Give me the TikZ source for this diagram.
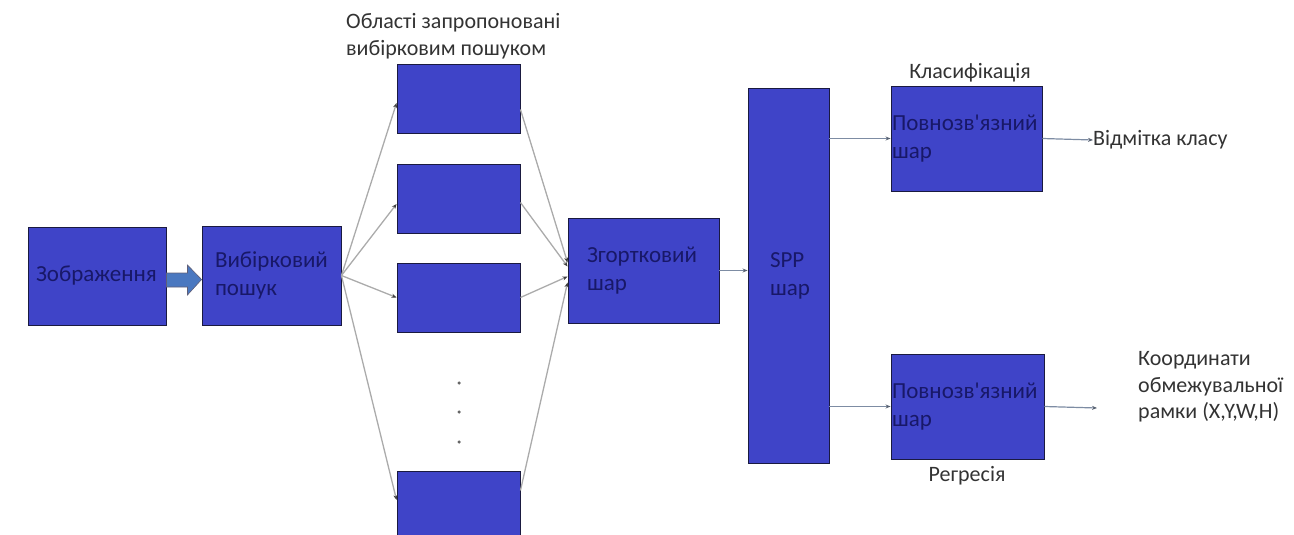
\documentclass[tikz,border=0pt]{standalone}
\usepackage{fontspec}
\setmainfont{Carlito}[Ligatures=TeXOff]
\usetikzlibrary{arrows.meta,calc}
\definecolor{boxblue}{HTML}{3F44C8}
\definecolor{boxtext}{HTML}{181868}
\definecolor{fanline}{HTML}{ABABAB}
\definecolor{outline}{HTML}{1A1A40}
\definecolor{blockarrow}{HTML}{4A78C0}
\definecolor{rline}{HTML}{7D8CA3}
\definecolor{captext}{HTML}{333333}
\tikzset{
  blk/.style={draw=outline, line width=0.9pt, fill=boxblue, text=boxtext,
    font=\fontsize{23}{28}\selectfont, align=left, inner ysep=0pt},
  captxt/.style={text=captext, font=\fontsize{22}{27.5}\selectfont, align=left, inner sep=0pt},
  fan/.style={draw=fanline, line width=1.3pt, -{Stealth[length=5pt,width=4pt,color=darkgray]}},
  rarr/.style={draw=rline, line width=1.2pt, -{Stealth[length=5pt,width=4pt,color=rline!70!black]}},
  dotm/.style={circle, fill=darkgray!80, inner sep=0pt, minimum size=3.5pt}
}
\begin{document}
\begin{tikzpicture}[x=1pt,y=-1pt]
\useasboundingbox (0,0) rectangle (1294,535);
% boxes
\node[blk, minimum height=98pt, text width=122pt, inner xsep=8pt] (img) at (97,276) {Зображення};
\node[blk, minimum height=99pt, text width=113pt, inner xsep=13pt] (sel) at (271.5,275.5) {Вибірковий\\пошук};
\node[blk, minimum width=123pt, minimum height=69pt] (p1) at (458.5,98.5) {};
\node[blk, minimum width=123pt, minimum height=69pt] (p2) at (458.5,198.5) {};
\node[blk, minimum width=123pt, minimum height=69pt] (p3) at (458.5,297.5) {};
\node[blk, minimum width=123pt, minimum height=69pt] (p4) at (458.5,505.5) {};
\node[blk, minimum height=105pt, text width=113pt, inner xsep=19pt] (conv) at (643.5,270.5) {Згортковий\\шар};
\node[blk, minimum height=375pt, text width=37pt, inner xsep=22pt] (spp) at (788.5,275.5) {SPP\\шар};
\node[blk, minimum height=105pt, text width=149pt, inner xsep=1pt] (fc1) at (966.5,138.5) {Повнозв'язний\\шар};
\node[blk, minimum height=105pt, text width=151pt, inner xsep=1pt] (fc2) at (967.5,406.5) {Повнозв'язний\\шар};
% dots
\node[dotm] (d1) at (459,383) {};
\node[dotm] (d2) at (459,412) {};
\node[dotm] (d3) at (459,442) {};
% captions
\node[captxt, anchor=west] (areas) at (346,36) {Області запропоновані\\вибірковим пошуком};
\node[captxt] (clsf) at (970,73) {Класифікація};
\node[captxt] (regr) at (967,476) {Регресія};
\node[captxt, anchor=west] (cls) at (1093,140) {Відмітка класу};
\node[captxt, anchor=west, font=\fontsize{22}{26.5}\selectfont] (coord) at (1138,387) {Координати\\обмежувальної\\рамки (X,Y,W,H)};
\coordinate (regend) at (1097,408);
% block arrow
\filldraw[fill=blockarrow, draw=outline!70, line width=0.6pt]
  ($(img.east)+(0,-3)$) -- ($(img.east)+(21,-3)$) -- ($(img.east)+(21,-11)$)
  -- ($(sel.west)+(0,4)$) -- ($(img.east)+(21,19)$) -- ($(img.east)+(21,11)$)
  -- ($(img.east)+(0,11)$) -- cycle;
% fan out
\draw[fan] (sel.east) -- ([yshift=-4.5pt]p1.west);
\draw[fan] (sel.east) -- ([yshift=-5.5pt]p2.west);
\draw[fan] (sel.east) -- (p3.west);
\draw[fan] (sel.east) -- ([yshift=5.5pt]p4.west);
% fan in
\draw[fan] ([yshift=-11pt]p1.east) -- ([yshift=8pt]conv.west);
\draw[fan] ([yshift=-4pt]p2.east) -- ([yshift=4pt]conv.west);
\draw[fan] (p3.east) -- ([yshift=-6pt]conv.west);
\draw[fan] ([yshift=15pt]p4.east) -- ([yshift=-12pt]conv.west);
% right part
\draw[rarr] (conv.east) -- (spp.west |- conv.east);
\draw[rarr] (spp.east |- fc1.west) -- (fc1.west);
\draw[rarr] (fc1.east) -- (cls.west);
\draw[rarr] (spp.east |- fc2.west) -- (fc2.west);
\draw[rarr] (fc2.east) -- (regend);
\end{tikzpicture}
\end{document}
